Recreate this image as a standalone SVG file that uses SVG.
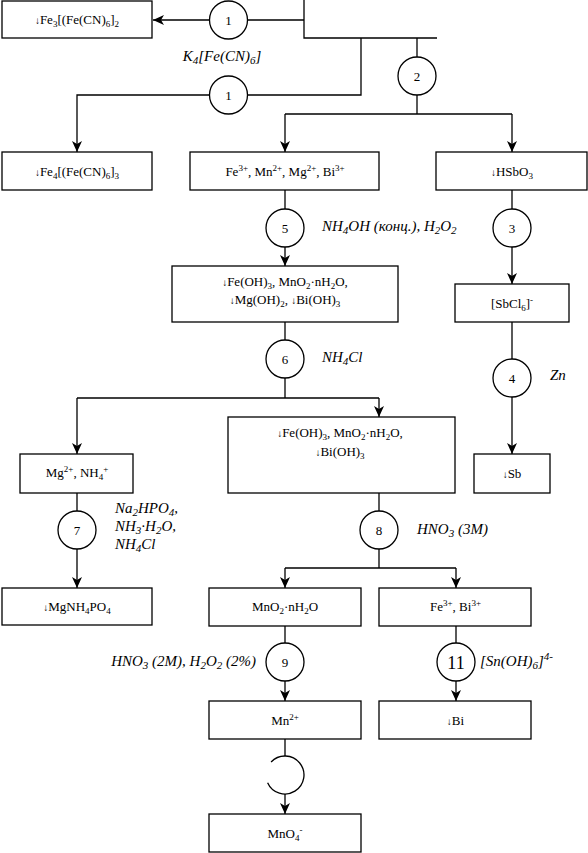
<svg xmlns="http://www.w3.org/2000/svg" width="588" height="853" viewBox="0 0 588 853">
<style>
.bx{fill:#fff;stroke:#000;stroke-width:1.3}
.c{fill:#fff;stroke:#000;stroke-width:1.3}
.ln{fill:none;stroke:#000;stroke-width:1.3}
text{font-family:'Liberation Serif','Times New Roman',Times,'DejaVu Serif',serif;fill:#000}
.t{font-size:13px;text-anchor:middle}
.n{font-size:13px;text-anchor:middle}
.lab{font-size:15px;font-style:italic}
.ar{font-size:10px}
.sb{font-size:9px;baseline-shift:-3px}
.sp{font-size:9px;baseline-shift:5px}
.lsb{font-size:11px;baseline-shift:-3px}
.lsp{font-size:11px;baseline-shift:6px}
</style>
<defs>
<marker id="ah" viewBox="0 0 11 10" refX="11" refY="5" markerWidth="11" markerHeight="10" markerUnits="userSpaceOnUse" orient="auto"><path d="M0,0 L11,5 L0,10 L3,5 Z" fill="#000"/></marker>
</defs>

<g id="connectors">
<path class="ln" d="M304,0 V38 H437"/>
<path class="ln" d="M304,20 H247.5"/>
<path class="ln" d="M209.5,20 H153" marker-end="url(#ah)"/>
<path class="ln" d="M361,38 V95 H247.5"/>
<path class="ln" d="M209.5,95 H77 V152" marker-end="url(#ah)"/>
<path class="ln" d="M417,38 V57"/>
<path class="ln" d="M417,95 V114"/>
<path class="ln" d="M285,114 H512"/>
<path class="ln" d="M285,114 V152" marker-end="url(#ah)"/>
<path class="ln" d="M512,114 V152" marker-end="url(#ah)"/>
<path class="ln" d="M285,190 V209"/>
<path class="ln" d="M285,247 V266" marker-end="url(#ah)"/>
<path class="ln" d="M512,190 V209"/>
<path class="ln" d="M512,247 V284" marker-end="url(#ah)"/>
<path class="ln" d="M285,322 V340"/>
<path class="ln" d="M285,378 V398"/>
<path class="ln" d="M77,398 H379"/>
<path class="ln" d="M77,398 V454" marker-end="url(#ah)"/>
<path class="ln" d="M379,398 V417" marker-end="url(#ah)"/>
<path class="ln" d="M512,322 V359"/>
<path class="ln" d="M512,397 V454" marker-end="url(#ah)"/>
<path class="ln" d="M77,493 V511"/>
<path class="ln" d="M77,549 V588" marker-end="url(#ah)"/>
<path class="ln" d="M379,493 V511"/>
<path class="ln" d="M379,549 V568"/>
<path class="ln" d="M285,568 H456"/>
<path class="ln" d="M285,568 V588" marker-end="url(#ah)"/>
<path class="ln" d="M456,568 V588" marker-end="url(#ah)"/>
<path class="ln" d="M285,626 V643"/>
<path class="ln" d="M285,681 V701" marker-end="url(#ah)"/>
<path class="ln" d="M456,626 V643"/>
<path class="ln" d="M456,681 V701" marker-end="url(#ah)"/>
<path class="ln" d="M285,739 V756"/>
<path class="ln" d="M285,794 V814" marker-end="url(#ah)"/>
</g>

<g id="op1a"><circle class="c" cx="228.5" cy="20" r="19"/><text class="n" x="228.5" y="24.5">1</text></g>
<g id="op1b"><circle class="c" cx="228.5" cy="95" r="19"/><text class="n" x="228.5" y="99.5">1</text></g>
<g id="label-k4"><text class="lab" x="222" y="61" text-anchor="middle">K<tspan class="lsb">4</tspan>[Fe(CN)<tspan class="lsb">6</tspan>]</text></g>
<g id="op2"><circle class="c" cx="417" cy="76" r="19"/><text class="n" x="417" y="80.5">2</text></g>
<g id="op5"><circle class="c" cx="285" cy="228" r="19"/><text class="n" x="285" y="232.5">5</text></g>
<g id="label-5"><text class="lab" x="322" y="231">NH<tspan class="lsb">4</tspan>OH (конц.), H<tspan class="lsb">2</tspan>O<tspan class="lsb">2</tspan></text></g>
<g id="op3"><circle class="c" cx="512" cy="228" r="19"/><text class="n" x="512" y="232.5">3</text></g>
<g id="op6"><circle class="c" cx="285" cy="359" r="19"/><text class="n" x="285" y="363.5">6</text></g>
<g id="label-6"><text class="lab" x="322" y="362">NH<tspan class="lsb">4</tspan>Cl</text></g>
<g id="op4"><circle class="c" cx="512" cy="378" r="19"/><text class="n" x="512" y="382.5">4</text></g>
<g id="label-4"><text class="lab" x="550" y="380">Zn</text></g>
<g id="op7"><circle class="c" cx="77" cy="530" r="19"/><text class="n" x="77" y="534.5">7</text></g>
<g id="label-7"><text class="lab" x="115" y="513">Na<tspan class="lsb">2</tspan>HPO<tspan class="lsb">4</tspan>,</text><text class="lab" x="115" y="531">NH<tspan class="lsb">3</tspan>·H<tspan class="lsb">2</tspan>O,</text><text class="lab" x="115" y="549">NH<tspan class="lsb">4</tspan>Cl</text></g>
<g id="op8"><circle class="c" cx="379" cy="530" r="19"/><text class="n" x="379" y="534.5">8</text></g>
<g id="label-8"><text class="lab" x="417" y="534">HNO<tspan class="lsb">3</tspan> (3M)</text></g>
<g id="op9"><circle class="c" cx="285" cy="662" r="19"/><text class="n" x="285" y="666.5">9</text></g>
<g id="label-9"><text class="lab" x="256" y="666" text-anchor="end">HNO<tspan class="lsb">3</tspan> (2M), H<tspan class="lsb">2</tspan>O<tspan class="lsb">2</tspan> (2%)</text></g>
<g id="op11"><circle class="c" cx="456" cy="662" r="19"/><text class="n" x="456" y="668.5" style="font-size:18px">11</text></g>
<g id="label-11"><text class="lab" x="480" y="666">[Sn(OH)<tspan class="lsb">6</tspan>]<tspan class="lsp">4-</tspan></text></g>
<g id="op10"><path class="ln" d="M271.1,762 A19,19 0 1 1 267.6,782.7"/></g>

<g id="b1"><rect class="bx" x="2" y="1" width="150" height="37"/><text class="t" x="77" y="24"><tspan class="ar">↓</tspan>Fe<tspan class="sb">3</tspan>[(Fe(CN)<tspan class="sb">6</tspan>]<tspan class="sb">2</tspan></text></g>
<g id="b2"><rect class="bx" x="2" y="152" width="150" height="38"/><text class="t" x="77" y="175.5"><tspan class="ar">↓</tspan>Fe<tspan class="sb">4</tspan>[(Fe(CN)<tspan class="sb">6</tspan>]<tspan class="sb">3</tspan></text></g>
<g id="b3"><rect class="bx" x="190" y="152" width="189" height="38"/><text class="t" x="285" y="175.5">Fe<tspan class="sp">3+</tspan>, Mn<tspan class="sp">2+</tspan>, Mg<tspan class="sp">2+</tspan>, Bi<tspan class="sp">3+</tspan></text></g>
<g id="b4"><rect class="bx" x="436" y="152" width="151" height="38"/><text class="t" x="512" y="175.5"><tspan class="ar">↓</tspan>HSbO<tspan class="sb">3</tspan></text></g>
<g id="b5"><rect class="bx" x="172" y="266" width="226" height="56"/><text class="t" x="285" y="286"><tspan class="ar">↓</tspan>Fe(OH)<tspan class="sb">3</tspan>, MnO<tspan class="sb">2</tspan>·nH<tspan class="sb">2</tspan>O,</text><text class="t" x="285" y="304"><tspan class="ar">↓</tspan>Mg(OH)<tspan class="sb">2</tspan>, <tspan class="ar">↓</tspan>Bi(OH)<tspan class="sb">3</tspan></text></g>
<g id="b6"><rect class="bx" x="455" y="284" width="114" height="38"/><text class="t" x="512" y="307.5">[SbCl<tspan class="sb">6</tspan>]<tspan class="sp">-</tspan></text></g>
<g id="b7"><rect class="bx" x="20" y="454" width="113" height="39"/><text class="t" x="77" y="477">Mg<tspan class="sp">2+</tspan>, NH<tspan class="sb">4</tspan><tspan class="sp">+</tspan></text></g>
<g id="b8"><rect class="bx" x="228" y="417" width="227" height="76"/><text class="t" x="340" y="437"><tspan class="ar">↓</tspan>Fe(OH)<tspan class="sb">3</tspan>, MnO<tspan class="sb">2</tspan>·nH<tspan class="sb">2</tspan>O,</text><text class="t" x="340" y="456"><tspan class="ar">↓</tspan>Bi(OH)<tspan class="sb">3</tspan></text></g>
<g id="b9"><rect class="bx" x="474" y="454" width="76" height="39"/><text class="t" x="512" y="478"><tspan class="ar">↓</tspan>Sb</text></g>
<g id="b10"><rect class="bx" x="2" y="588" width="150" height="37"/><text class="t" x="77" y="611"><tspan class="ar">↓</tspan>MgNH<tspan class="sb">4</tspan>PO<tspan class="sb">4</tspan></text></g>
<g id="b11"><rect class="bx" x="209" y="588" width="152" height="38"/><text class="t" x="285" y="611">MnO<tspan class="sb">2</tspan>·nH<tspan class="sb">2</tspan>O</text></g>
<g id="b12"><rect class="bx" x="379" y="588" width="152" height="38"/><text class="t" x="455.5" y="611">Fe<tspan class="sp">3+</tspan>, Bi<tspan class="sp">3+</tspan></text></g>
<g id="b13"><rect class="bx" x="209" y="701" width="152" height="38"/><text class="t" x="285" y="724.5">Mn<tspan class="sp">2+</tspan></text></g>
<g id="b14"><rect class="bx" x="379" y="701" width="152" height="38"/><text class="t" x="455.5" y="724.5"><tspan class="ar">↓</tspan>Bi</text></g>
<g id="b15"><rect class="bx" x="209" y="814" width="152" height="38"/><text class="t" x="285" y="837.5">MnO<tspan class="sb">4</tspan><tspan class="sp">-</tspan></text></g>
</svg>
